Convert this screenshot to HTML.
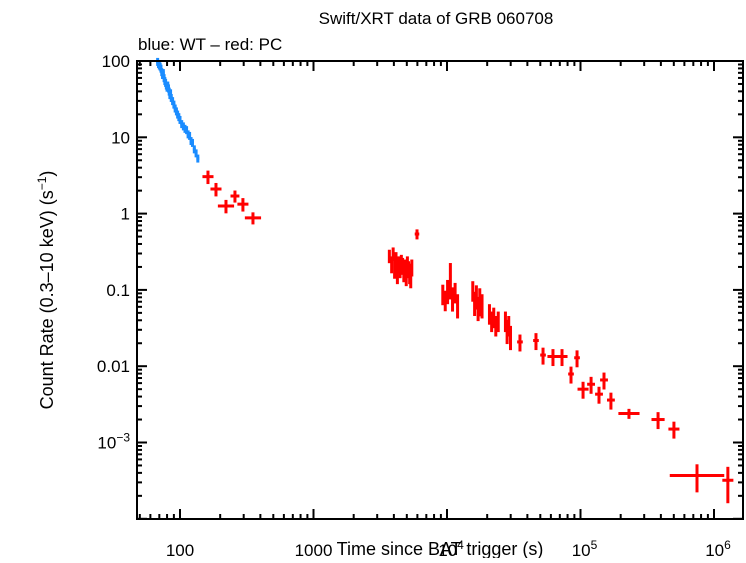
<!DOCTYPE html>
<html><head><meta charset="utf-8"><style>
body{margin:0;background:#fff}
svg text{font-family:"Liberation Sans",sans-serif;fill:#000}
</style></head><body>
<svg id="c" width="746" height="558">
<text x="436" y="24" font-size="17" text-anchor="middle">Swift/XRT data of GRB 060708</text>
<text x="138" y="50" font-size="17">blue: WT – red: PC</text>
<text x="440" y="555" font-size="18" text-anchor="middle">Time since BAT trigger (s)</text>
<text transform="translate(53,290) rotate(-90)" font-size="18" text-anchor="middle">Count Rate (0.3–10 keV) (s<tspan dy="-7" font-size="12">−1</tspan><tspan dy="7">)</tspan></text>
<g id="ticks"></g><g id="wt"></g><g id="pc"></g>
<rect x="137" y="61" width="606" height="458" fill="none" stroke="#000" stroke-width="2"/>
</svg>
<script>
const wtT=[68,69,70,71,72,73,74,75,76,77,78,79,80,81,82,83,84,85,86,88,90,92,94,96,98,100,103,106,109,112,115,118,121,124,128,132,136];
const wtR=[98,92,88,85,80,72,66,70,60,55,52,48,45,48,44,40,36,38,33,30,27,24,22,20,18.5,17,15,14,13,12.5,11,10.5,9,8.5,7,6.2,5.3];
const pcT=[162,186,221,258,296,352,3700,3850,3950,4050,4150,4250,4350,4450,4550,4650,4750,4850,4950,5050,5150,5250,5350,5450,5960,9300,9700,10100,10600,11000,11500,12000,15600,16100,16600,17100,17600,18300,20800,21600,22400,23200,24200,27400,28200,29000,29900,35200,46400,52400,62200,72700,84900,94200,104500,120000,137600,150000,169000,230700,381000,501000,746000,1270000];
const pcR=[3.05,2.1,1.26,1.7,1.33,0.88,0.28,0.22,0.3,0.2,0.25,0.17,0.22,0.19,0.24,0.21,0.18,0.2,0.16,0.22,0.19,0.17,0.15,0.2,0.54,0.09,0.075,0.1,0.15,0.08,0.095,0.065,0.1,0.07,0.085,0.06,0.075,0.065,0.05,0.04,0.045,0.035,0.04,0.04,0.03,0.035,0.025,0.0208,0.0217,0.014,0.0134,0.0134,0.0079,0.0129,0.005,0.0058,0.0043,0.0066,0.0036,0.0024,0.002,0.0015,0.00037,0.00032];
const pcTerr=[0.1,0.1,0.15,0.08,0.1,0.15,0.02,0.02,0.02,0.02,0.02,0.02,0.02,0.02,0.02,0.02,0.02,0.02,0.02,0.02,0.02,0.02,0.02,0.02,0.04,0.02,0.02,0.02,0.02,0.02,0.02,0.02,0.02,0.02,0.02,0.02,0.02,0.02,0.02,0.02,0.02,0.02,0.02,0.02,0.02,0.02,0.02,0.05,0.05,0.05,0.1,0.1,0.05,0.05,0.1,0.07,0.07,0.07,0.07,0.2,0.12,0.1,0.6,0.1];
const pcRerr=[0.2,0.2,0.2,0.18,0.2,0.18,0.2,0.25,0.2,0.3,0.25,0.3,0.25,0.25,0.2,0.25,0.3,0.25,0.3,0.25,0.25,0.3,0.3,0.25,0.15,0.3,0.3,0.35,0.5,0.35,0.3,0.35,0.3,0.35,0.35,0.35,0.4,0.35,0.3,0.3,0.3,0.3,0.3,0.3,0.35,0.3,0.35,0.25,0.25,0.25,0.25,0.25,0.25,0.25,0.25,0.25,0.25,0.25,0.25,0.15,0.25,0.25,0.4,0.5];
const yLabels=["100","10","1","0.1","0.01","10|−3"];
const xLabels=["100","1000","10|4","10|5","10|6"];
const NS="http://www.w3.org/2000/svg";
const X=t=>180+(Math.log10(t)-2)*133.5;
const Y=r=>61+(2-Math.log10(r))*76.3;
function mk(tag,at,parent){const e=document.createElementNS(NS,tag);for(const k in at)e.setAttribute(k,at[k]);parent.appendChild(e);return e;}
const tk=document.getElementById('ticks');
for(let d=-4;d<=2;d++)for(let m=1;m<10;m++){const v=m*Math.pow(10,d);const y=Y(v);if(y<61||y>519)continue;const L=m==1?10:5;
const a=mk('line',{x1:137,x2:137+L,y1:y,y2:y,stroke:'#000','stroke-width':2},tk);
const b=mk('line',{x1:743,x2:743-L,y1:y,y2:y,stroke:'#000','stroke-width':2},tk);}
for(let d=1;d<=6;d++)for(let m=1;m<10;m++){const v=m*Math.pow(10,d);const x=X(v);if(x<137||x>743)continue;const L=m==1?10:5;
const a=mk('line',{x1:x,x2:x,y1:519,y2:519-L,stroke:'#000','stroke-width':2},tk);
const b=mk('line',{x1:x,x2:x,y1:61,y2:61+L,stroke:'#000','stroke-width':2},tk);}
function lab(s,x,y,anchor,nm){const t=mk('text',{x:x,y:y,'font-size':17,'text-anchor':anchor},tk);
const p=s.split('|');t.textContent=p[0];if(p[1]){const sp=mk('tspan',{dy:-7,'font-size':12},t);sp.textContent=p[1];}}
yLabels.forEach((s,i)=>lab(s,130,Y(Math.pow(10,2-i))+6,'end','y-tick-label'));
xLabels.forEach((s,i)=>lab(s,X(Math.pow(10,2+i))+(i>1?4:0),556,'middle','x-tick-label'));
function pt(g,t,r,te,re,col,nm){const x1=X(t/(1+te)),x2=X(t*(1+te)),y=Y(r),ya=Y(r*(1+re)),yb=Y(Math.max(r*(1-re),1e-9));
const h=mk('line',{x1:x1,x2:x2,y1:y,y2:y,stroke:col,'stroke-width':3},g);
const v=mk('line',{x1:X(t),x2:X(t),y1:ya,y2:yb,stroke:col,'stroke-width':3},g);}
const wg=document.getElementById('wt');wtT.forEach((t,i)=>pt(wg,t,wtR[i],0.025,0.12,'#1a8cff','wt-point'));
const pg=document.getElementById('pc');pcT.forEach((t,i)=>pt(pg,t,pcR[i],pcTerr[i],pcRerr[i],'#ff0000','pc-point'));
</script>
</body></html>
